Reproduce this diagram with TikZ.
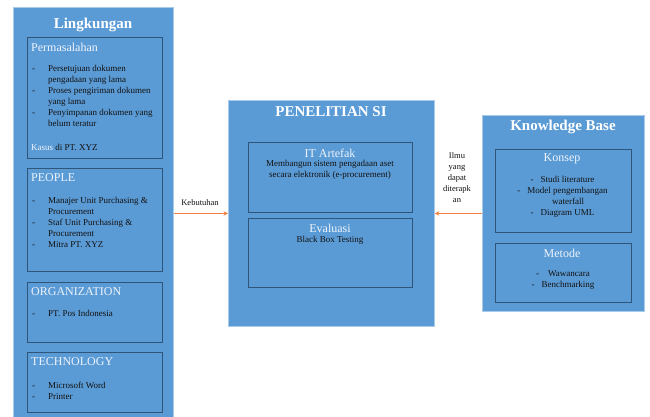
\documentclass[tikz,border=0pt]{standalone}
\usepackage{fontspec}
\setmainfont{Liberation Serif}
\usetikzlibrary{arrows.meta}
\definecolor{boxblue}{HTML}{5B9BD5}
\definecolor{inneredge}{HTML}{2F5578}
\definecolor{outeredge}{HTML}{A8CBEA}
\definecolor{headtxt}{HTML}{EEF4FB}
\definecolor{bodytxt}{HTML}{111111}
\definecolor{arroworange}{HTML}{F0843F}
\newcommand{\bli}[1]{\makebox[16pt][l]{-}#1}
\newcommand{\blc}[1]{\hspace*{16pt}#1}
\tikzset{
  outerbox/.style={draw=outeredge, line width=0.8pt, fill=boxblue, anchor=north west, inner sep=0pt},
  innerbox/.style={draw=inneredge, line width=0.8pt, fill=boxblue, anchor=north west, inner sep=0pt},
  titletxt/.style={text=white, font=\fontsize{15}{18}\selectfont\bfseries, inner sep=0pt},
  headleft/.style={text=headtxt, font=\fontsize{12}{14}\selectfont, anchor=west, inner sep=0pt},
  headmid/.style={text=headtxt, font=\fontsize{12}{14}\selectfont, inner sep=0pt},
  bodyleft/.style={text=bodytxt, font=\fontsize{9}{11}\selectfont, align=left, anchor=north west, inner sep=0pt},
  bodymid/.style={text=bodytxt, font=\fontsize{9}{11}\selectfont, align=center, anchor=north, inner sep=0pt},
  arr/.style={draw=arroworange, line width=1.2pt, -{Stealth[length=4.5pt,width=4.5pt]}},
  lbl/.style={text=bodytxt, font=\fontsize{8.5}{11}\selectfont, align=center, inner sep=0pt}
}
\begin{document}
\begin{tikzpicture}[x=1pt,y=-1pt]
\useasboundingbox (0,0) rectangle (650,416);
% Left column
\node[outerbox, minimum width=160pt, minimum height=409.5pt] (L) at (13,7) {};
\node[titletxt] (Ltitle) at (93,25) {Lingkungan};
\node[innerbox, minimum width=135pt, minimum height=121pt] (perm) at (27,37) {};
\node[headleft] (permh) at (31,47) {Permasalahan};
\node[bodyleft] (permb) at (32,65.5) {\bli{Persetujuan dokumen}\\\blc{pengadaan yang lama}\\\bli{Proses pengiriman dokumen}\\\blc{yang lama}\\\bli{Penyimpanan dokumen yang}\\\blc{belum teratur}};
\node[text=bodytxt, font=\fontsize{9}{11}\selectfont, anchor=west, inner sep=0pt] (kasus) at (31,147) {\textcolor{headtxt}{Kasus} di PT. XYZ};
\node[innerbox, minimum width=135pt, minimum height=103pt] (people) at (27,168) {};
\node[headleft] (peopleh) at (31,178) {PEOPLE};
\node[bodyleft] (peopleb) at (32,197.5) {\bli{Manajer Unit Purchasing \&}\\\blc{Procurement}\\\bli{Staf Unit Purchasing \&}\\\blc{Procurement}\\\bli{Mitra PT. XYZ}};
\node[innerbox, minimum width=135pt, minimum height=60pt] (org) at (27,282) {};
\node[headleft] (orgh) at (31,292) {ORGANIZATION};
\node[bodyleft] (orgb) at (32,310.5) {\bli{PT. Pos Indonesia}};
\node[innerbox, minimum width=135pt, minimum height=60pt] (tech) at (27,352) {};
\node[headleft] (techh) at (31,362) {TECHNOLOGY};
\node[bodyleft] (techb) at (32,381.5) {\bli{Microsoft Word}\\\bli{Printer}};
% Middle
\node[outerbox, minimum width=206pt, minimum height=226pt] (M) at (228,100) {};
\node[titletxt] (Mtitle) at (331,112) {PENELITIAN SI};
\node[innerbox, minimum width=164pt, minimum height=70pt] (it) at (248,142) {};
\node[headmid] (ith) at (330,153) {IT Artefak};
\node[bodymid] (itb) at (330,160.5) {Membangun sistem pengadaan aset\\secara elektronik (e-procurement)};
\node[innerbox, minimum width=164pt, minimum height=69pt] (eval) at (248,218) {};
\node[headmid] (evalh) at (330,228) {Evaluasi};
\node[bodymid] (evalb) at (330,236.5) {Black Box Testing};
% Right
\node[outerbox, minimum width=162pt, minimum height=196pt] (KB) at (482,115) {};
\node[titletxt] (KBtitle) at (563,127) {Knowledge Base};
\node[innerbox, minimum width=136pt, minimum height=83pt] (konsep) at (495,149) {};
\node[headmid] (konseph) at (562,159) {Konsep};
\node[bodymid] (konsepb) at (562.5,176.5) {-\hspace{7pt}Studi literature\\-\hspace{7pt}Model pengembangan\\\hspace*{11pt}waterfall\\-\hspace{7pt}Diagram UML};
\node[innerbox, minimum width=136pt, minimum height=59pt] (metode) at (495,243) {};
\node[headmid] (metodeh) at (562,253) {Metode};
\node[bodymid] (metodeb) at (563,270.5) {-\hspace{9pt}Wawancara\\-\hspace{7pt}Benchmarking};
% Connectors
\draw[arr] (L.east |- M.west) -- (M.west);
\node[lbl] (kebl) at (200,203) {Kebutuhan};
\draw[arr] (KB.west) -- (M.east);
\node[lbl] (ilmul) at (457,178) {Ilmu\\yang\\dapat\\diterapk\\an};
\end{tikzpicture}
\end{document}
